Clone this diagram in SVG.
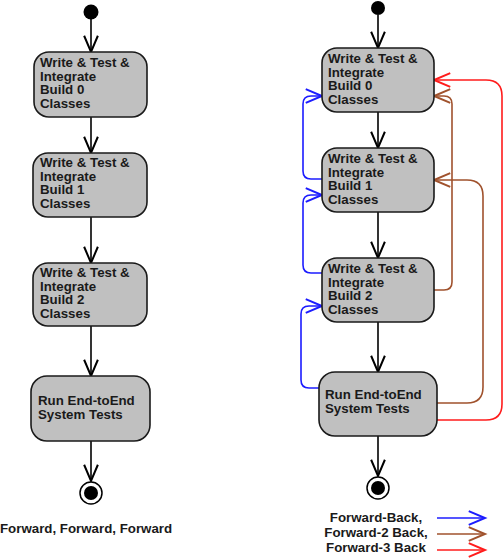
<svg xmlns="http://www.w3.org/2000/svg" width="503" height="559" viewBox="0 0 503 559">
<style>
.box{fill:#c0c0c0;stroke:#1a1a1a;stroke-width:1.6}
.t{font-family:"Liberation Sans",Arial,sans-serif;font-weight:bold;font-size:13.3px;fill:#1a1a1a}
.c{fill:none;stroke-width:1.6}
.k{stroke:#000}
.b{stroke:#1c1cff}
.r{stroke:#a0522d}
.d{stroke:#ff1c1c}
</style>
<defs>
<marker id="ak" markerUnits="userSpaceOnUse" markerWidth="20" markerHeight="20" refX="0" refY="0" viewBox="-14 -8 16 16" orient="auto"><path d="M-13,-5.5 L0,0 L-13,5.5" fill="none" stroke="#000" stroke-width="1.6"/></marker>
<marker id="ab" markerUnits="userSpaceOnUse" markerWidth="20" markerHeight="20" refX="0" refY="0" viewBox="-14 -8 16 16" orient="auto"><path d="M-13,-5.5 L0,0 L-13,5.5" fill="none" stroke="#1c1cff" stroke-width="1.6"/></marker>
<marker id="ar" markerUnits="userSpaceOnUse" markerWidth="20" markerHeight="20" refX="0" refY="0" viewBox="-14 -8 16 16" orient="auto"><path d="M-13,-5.5 L0,0 L-13,5.5" fill="none" stroke="#a0522d" stroke-width="1.6"/></marker>
<marker id="ad" markerUnits="userSpaceOnUse" markerWidth="20" markerHeight="20" refX="0" refY="0" viewBox="-14 -8 16 16" orient="auto"><path d="M-13,-5.5 L0,0 L-13,5.5" fill="none" stroke="#ff1c1c" stroke-width="1.6"/></marker>
</defs>
<rect width="503" height="559" fill="#fff"/>

<g id="connectors">
<g class="c k">
<path d="M91,19 V52" marker-end="url(#ak)"/>
<path d="M91,117 V153" marker-end="url(#ak)"/>
<path d="M91,217 V263" marker-end="url(#ak)"/>
<path d="M91,326 V376" marker-end="url(#ak)"/>
<path d="M91,441 V481" marker-end="url(#ak)"/>
<path d="M378,15 V48" marker-end="url(#ak)"/>
<path d="M378,112 V148" marker-end="url(#ak)"/>
<path d="M378,212 V258" marker-end="url(#ak)"/>
<path d="M378,322 V372" marker-end="url(#ak)"/>
<path d="M378,436 V476" marker-end="url(#ak)"/>
</g>
<g class="c b">
<path d="M322,179 H311 Q303,179 303,171 V104 Q303,96 311,96 H322" marker-end="url(#ab)"/>
<path d="M322,273 H311 Q303,273 303,265 V203 Q303,195 311,195 H322" marker-end="url(#ab)"/>
<path d="M319,388 H309 Q301,388 301,380 V314 Q301,306 309,306 H322" marker-end="url(#ab)"/>
</g>
<g class="c r">
<path d="M434,290 H444 Q452,290 452,282 V104 Q452,96 444,96 H434" marker-end="url(#ar)"/>
<path d="M437,403 H467 Q483,403 483,387 V196 Q483,180 467,180 H434" marker-end="url(#ar)"/>
</g>
<g class="c d">
<path d="M437,420 H486 Q502,420 502,404 V96 Q502,80 486,80 H434" marker-end="url(#ad)"/>
</g>
</g>

<g id="start-left"><circle cx="91" cy="12" r="7.5" fill="#000"/></g>
<g id="l-build0"><rect class="box" x="34" y="52" width="113" height="65" rx="15"/>
<text class="t" x="40" y="67">Write &amp; Test &amp;</text><text class="t" x="40" y="80.5">Integrate</text><text class="t" x="40" y="94">Build 0</text><text class="t" x="40" y="107.5">Classes</text></g>
<g id="l-build1"><rect class="box" x="33" y="153" width="114" height="64" rx="15"/>
<text class="t" x="40" y="167">Write &amp; Test &amp;</text><text class="t" x="40" y="180.5">Integrate</text><text class="t" x="40" y="194">Build 1</text><text class="t" x="40" y="207.5">Classes</text></g>
<g id="l-build2"><rect class="box" x="33" y="263" width="114" height="63" rx="15"/>
<text class="t" x="40" y="277">Write &amp; Test &amp;</text><text class="t" x="40" y="290.5">Integrate</text><text class="t" x="40" y="304">Build 2</text><text class="t" x="40" y="317.5">Classes</text></g>
<g id="l-e2e"><rect class="box" x="31" y="376" width="119" height="65" rx="16"/>
<text class="t" x="38" y="405">Run End-toEnd</text><text class="t" x="38" y="418.5">System Tests</text></g>
<g id="end-left"><circle cx="91" cy="493" r="11" fill="#fff" stroke="#000" stroke-width="1.5"/><circle cx="91" cy="493" r="7" fill="#000"/></g>
<g id="label-left"><text class="t" x="0" y="533">Forward, Forward, Forward</text></g>

<g id="start-right"><circle cx="378" cy="8" r="7" fill="#000"/></g>
<g id="r-build0"><rect class="box" x="322" y="48" width="112" height="64" rx="15"/>
<text class="t" x="328" y="63">Write &amp; Test &amp;</text><text class="t" x="328" y="76.5">Integrate</text><text class="t" x="328" y="90">Build 0</text><text class="t" x="328" y="103.5">Classes</text></g>
<g id="r-build1"><rect class="box" x="322" y="148" width="112" height="64" rx="15"/>
<text class="t" x="328" y="163">Write &amp; Test &amp;</text><text class="t" x="328" y="176.5">Integrate</text><text class="t" x="328" y="190">Build 1</text><text class="t" x="328" y="203.5">Classes</text></g>
<g id="r-build2"><rect class="box" x="322" y="258" width="112" height="64" rx="15"/>
<text class="t" x="328" y="273">Write &amp; Test &amp;</text><text class="t" x="328" y="286.5">Integrate</text><text class="t" x="328" y="300">Build 2</text><text class="t" x="328" y="313.5">Classes</text></g>
<g id="r-e2e"><rect class="box" x="319" y="372" width="118" height="64" rx="16"/>
<text class="t" x="325" y="399">Run End-toEnd</text><text class="t" x="325" y="413">System Tests</text></g>
<g id="end-right"><circle cx="378" cy="488" r="11" fill="#fff" stroke="#000" stroke-width="1.5"/><circle cx="378" cy="488" r="7" fill="#000"/></g>

<g id="legend">
<text class="t" x="376" y="522" text-anchor="middle">Forward-Back,</text>
<text class="t" x="376" y="537" text-anchor="middle">Forward-2 Back,</text>
<text class="t" x="376" y="552" text-anchor="middle">Forward-3 Back</text>
<path class="c b" d="M437,518 H485" marker-end="url(#ab)"/>
<path class="c r" d="M437,534 H485" marker-end="url(#ar)"/>
<path class="c d" d="M437,550 H485" marker-end="url(#ad)"/>
</g>
</svg>
